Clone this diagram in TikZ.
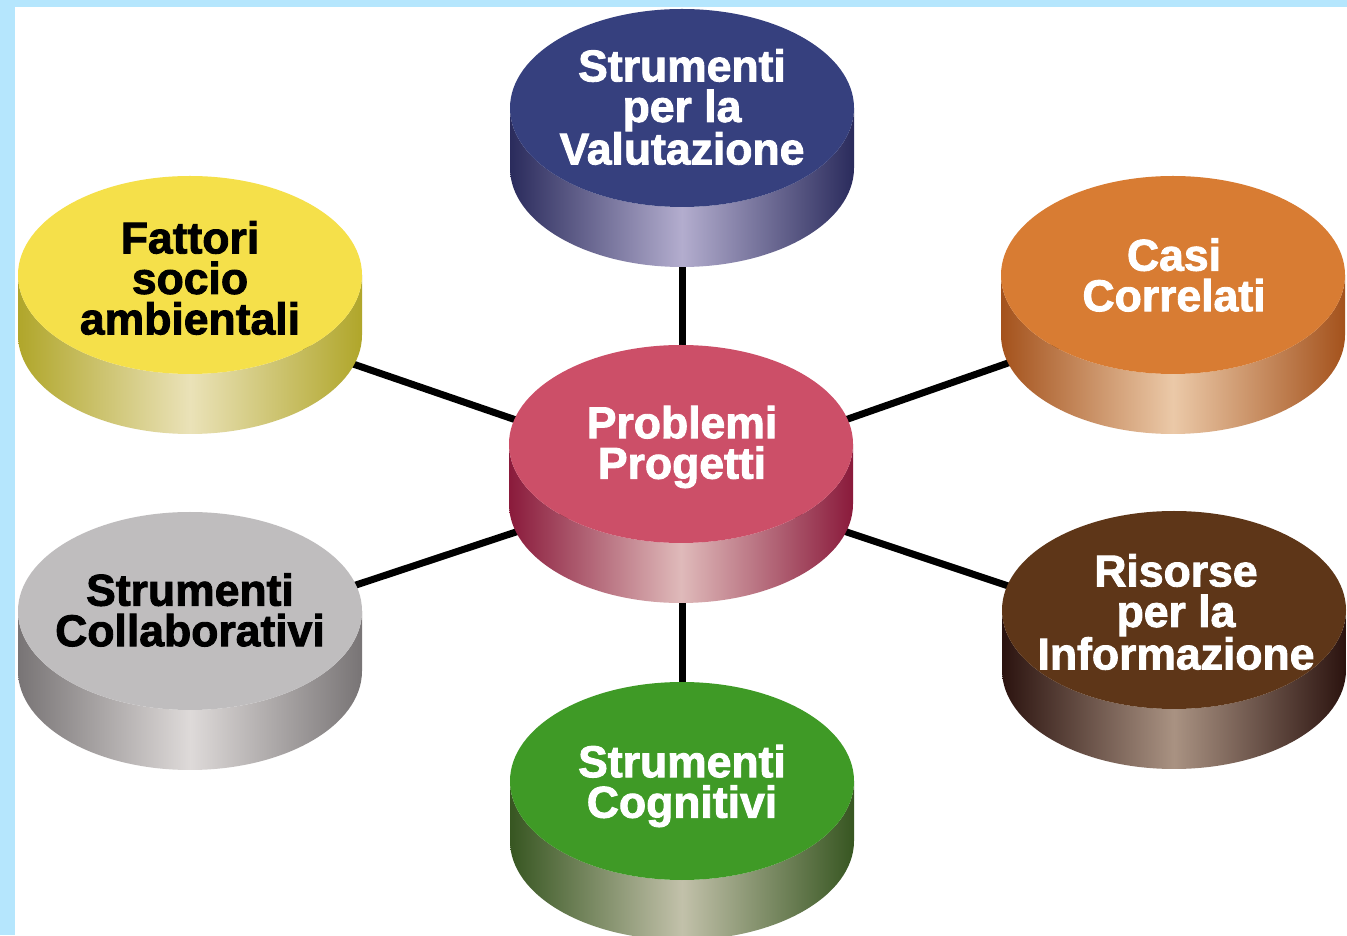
\documentclass[tikz,border=0pt]{standalone}
\usepackage{fontspec}
\setmainfont{Liberation Sans}
\newfontfamily\discfont{Liberation Sans}[BoldFeatures={FakeBold=2}]
\definecolor{bgblue}{HTML}{B5E6FD}
\definecolor{vtop}{HTML}{36407E}\definecolor{vedge}{HTML}{2A2B5C}\definecolor{vmid}{HTML}{B3ADCE}
\definecolor{ftop}{HTML}{F5E04A}\definecolor{fedge}{HTML}{B0A62A}\definecolor{fmid}{HTML}{EAE2B8}
\definecolor{ctop}{HTML}{D87C33}\definecolor{cedge}{HTML}{A4521C}\definecolor{cmid}{HTML}{EBC9A8}
\definecolor{ptop}{HTML}{CC4F68}\definecolor{pedge}{HTML}{8A1A3B}\definecolor{pmid}{HTML}{DFBABA}
\definecolor{stop}{HTML}{BFBDBE}\definecolor{sedge}{HTML}{787475}\definecolor{smid}{HTML}{DEDAD9}
\definecolor{rtop}{HTML}{5E3618}\definecolor{redge}{HTML}{2B130F}\definecolor{rmid}{HTML}{A99282}
\definecolor{gtop}{HTML}{3F9A26}\definecolor{gedge}{HTML}{375621}\definecolor{gmid}{HTML}{C2C1AA}
\pgfdeclarelayer{bg}
\pgfdeclarelayer{lines}
\pgfsetlayers{bg,lines,main}
\tikzset{
  disctext/.style={align=center, font=\discfont\bfseries\fontsize{44.5}{40.5}\selectfont, inner sep=0pt},
  connector/.style={line width=7pt, black},
}
% #1 cx, #2 cy, #3 top colour, #4 edge colour, #5 middle colour
\newcommand{\mydisc}[5]{%
  \shade[left color=#4, right color=#4, middle color=#5]
    (#1pt-172pt,#2pt) -- (#1pt-172pt,#2pt-60pt)
    arc[start angle=180, end angle=360, x radius=172pt, y radius=99pt]
    -- (#1pt+172pt,#2pt)
    arc[start angle=0, end angle=-180, x radius=172pt, y radius=99pt] -- cycle;
  \fill[#3] (#1pt,#2pt) ellipse[x radius=172pt, y radius=99pt];
}
\begin{document}
\begin{tikzpicture}[x=1pt,y=1pt]
\useasboundingbox (0,0) rectangle (1347,935);
\begin{pgfonlayer}{bg}
  \fill[bgblue] (0,0) rectangle (1347,935);
  \fill[white] (15,0) rectangle (1347,928);
\end{pgfonlayer}
% discs
\mydisc{682}{827}{vtop}{vedge}{vmid}
\mydisc{190}{660}{ftop}{fedge}{fmid}
\mydisc{1173}{660}{ctop}{cedge}{cmid}
\mydisc{681}{491}{ptop}{pedge}{pmid}
\mydisc{190}{324}{stop}{sedge}{smid}
\mydisc{1174}{325}{rtop}{redge}{rmid}
\mydisc{682}{154}{gtop}{gedge}{gmid}
% labels
\node[disctext, text=white] (V) at (682,828) {Strumenti\\per la\\Valutazione};
\node[disctext, text=black] (F) at (190,657) {Fattori\\socio\\ambientali};
\node[disctext, text=white] (C) at (1174,660) {Casi\\Correlati};
\node[disctext, text=white] (P) at (682,488) {Problemi\\Progetti};
\node[disctext, text=black] (S) at (190,325) {Strumenti\\Collaborativi};
\node[disctext, text=white] (R) at (1176,323) {Risorse\\per la\\Informazione};
\node[disctext, text=white] (G) at (682,149) {Strumenti\\Cognitivi};
% connectors (between the mid-heights of the discs)
\begin{pgfonlayer}{lines}
  \draw[connector] ([yshift=-30pt]P.center) -- ([yshift=-30pt]V.center);
  \draw[connector] ([yshift=-30pt]P.center) -- ([yshift=-30pt]F.center);
  \draw[connector] ([yshift=-30pt]P.center) -- ([yshift=-30pt]C.center);
  \draw[connector] ([yshift=-30pt]P.center) -- ([yshift=-30pt]S.center);
  \draw[connector] ([yshift=-30pt]P.center) -- ([yshift=-30pt]R.center);
  \draw[connector] ([yshift=-30pt]P.center) -- ([yshift=-30pt]G.center);
\end{pgfonlayer}
\end{tikzpicture}
\end{document}
